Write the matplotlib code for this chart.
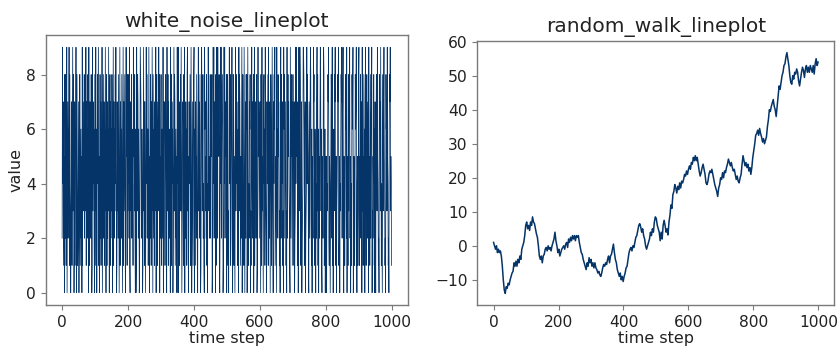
import matplotlib
matplotlib.use("Agg")
import matplotlib.pyplot as plt

# white noise: integer values 0..9, one per time step
noise_rows = [
    "29471350862814903726591843027615938402716593084125",
    "70388146250917364825539174628509317762850193746208",
    "51936028479150382716490358271639405817263940581726",
    "38504917263849501736284059173628405917368204957183",
    "64829105738264419573820601953872640159873264015937",
    "17305948266139405286173940852617349058216739480526",
    "83164290577314862095381746250938174602593871462509",
    "45092716383950247618390527461893502746813950274168",
    "90617352841069375284016973582410967352814069735248",
    "26758013949267508139429675810394926785013949276580",
    "58213069478125693048715206938475126093874152690384",
    "31950472868039514276803159427680391547268013957426",
    "74086193520784619532074681935270486139520748691352",
    "09362857413069285471309682574130926857431096285714",
    "86517023949856170293498615702349986157023494865107",
    "42798316054297831650427938160524798361054279813605",
    "15043687921540368729150463879215034687912504368792",
    "67920541386729054183679250413867902541386792045138",
    "93154826709351482607931584267093514826790315482607",
    "20687395412086739514206837954120867395412068793541",
]
noise = [int(c) for row in noise_rows for c in row]
noise_steps = list(range(len(noise)))

# random walk, sampled every 3 steps
walk_steps = list(range(0, 1000, 3))
walk = [
    1, 0, -1, 0, -2, -1, -2, -1.5, -3, -6, -10, -13, -14, -12, -12.5, -11, -11.5, -10,
    -9, -8, -7.5, -5, -6, -4.5, -6, -4, -5, -3, -4, -1, 0, 1, 3, 6, 7, 5, 6, 4.5, 7,
    6, 8.5, 7, 6.5, 5, 3.5, 2.5, 0, -3, -4, -3, -5, -3, -2.5, -1, -0.5, -1.5, 0, -1,
    -0.5, -1.5, 0, 1, 2, 4, 1.5, 0, -2, -1, -3, -2, -1, -0.5, 0, -1, 0.5, 1, -0.5, 2,
    1, 2.5, 1.5, 3, 2, 3, 1.5, 3, 2.5, 3, 1, -0.5, -2, -2.5, -4, -5, -6, -7, -5, -6,
    -3.5, -5, -4, -6, -5, -6.5, -5, -6.5, -7, -8, -7.5, -8.5, -9, -8, -6.5, -5.5, -6,
    -5, -5.5, -4, -3, -5, -3, -2.5, -1, 0.5, -2, -4, -5, -7, -8, -9, -8, -10, -9,
    -10.5, -9, -8, -6.5, -6, -4, -2, -1, -0.5, -1.5, 0, -0.5, 1, 2.5, 3, 4.5, 6, 6.5,
    5.5, 4, 5, 3, 2, 0, -1, 0, 1, 2, 4, 3, 5, 4, 7, 8.5, 8, 6, 5, 4, 1.5, 4, 2, 6,
    7.5, 6, 4, 5, 3.2, 7, 9, 12, 11, 15, 16, 18, 17, 15.5, 17.5, 16.5, 18.5, 17, 19,
    18.5, 19.5, 21, 20.5, 22, 21, 22.5, 23.5, 22.5, 24.5, 24, 26, 25, 26.5, 25, 26,
    24, 22, 20.5, 21.5, 23, 24, 22.5, 21, 18.5, 18, 19, 21, 22, 21.5, 22.5, 21, 19.5,
    18, 17, 16, 14.5, 17, 18, 20, 19.5, 21.5, 20, 22, 21.5, 23, 24, 25.5, 24.5, 23.5,
    24.5, 23, 22, 22.5, 21, 19.5, 20.5, 19, 18.5, 20, 21, 24, 26.5, 25, 23.5, 24.5,
    23, 24, 22, 23, 21, 23, 26, 28, 30, 32.5, 33, 34, 32.5, 34.5, 33, 32, 30.5, 31.5,
    30, 31, 32, 35, 37, 40, 39.5, 41, 42, 43, 41, 40, 38, 41, 44, 47, 46, 48, 50, 51,
    53, 53.5, 55.5, 56.8, 55, 53, 50, 48, 47.5, 50, 49, 51, 50.5, 52, 51, 48.5, 47,
    49, 51, 52.5, 51.5, 49.5, 52, 53, 51, 52.5, 51, 53, 52, 51, 53, 50.5, 53.5, 55,
    53, 54,
]

line_color = "#053468"
spine_color = "#7a7a7a"
text_color = "#222222"

fig = plt.figure(figsize=(8.38, 3.48), dpi=100)
ax1 = fig.add_axes([0.0545, 0.1236, 0.4324, 0.7759])
ax2 = fig.add_axes([0.5696, 0.1236, 0.4260, 0.7595])

ax1.plot(noise_steps, noise, color=line_color, linewidth=0.55)
ax1.set_title("white_noise_lineplot", fontsize=14.5, color=text_color)
ax1.set_xlabel("time step", fontsize=11.5, color=text_color, labelpad=1)
ax1.set_ylabel("value", fontsize=11.5, color=text_color, labelpad=2)
ax1.set_xticks([0, 200, 400, 600, 800, 1000])
ax1.set_yticks([0, 2, 4, 6, 8])

ax2.plot(walk_steps[:len(walk)], walk, color=line_color, linewidth=1.1)
ax2.set_title("random_walk_lineplot", fontsize=14.5, color=text_color)
ax2.set_xlabel("time step", fontsize=11.5, color=text_color, labelpad=1)
ax2.set_xticks([0, 200, 400, 600, 800, 1000])
ax2.set_ylim(-17.4, 60.3)
ax2.set_yticks([-10, 0, 10, 20, 30, 40, 50, 60])

for ax in (ax1, ax2):
    for s in ax.spines.values():
        s.set_color(spine_color)
        s.set_linewidth(1.0)
    ax.tick_params(colors=spine_color, labelcolor=text_color, labelsize=11.2,
                   length=3.5, width=0.8)

fig.savefig("out.png", dpi=100)
